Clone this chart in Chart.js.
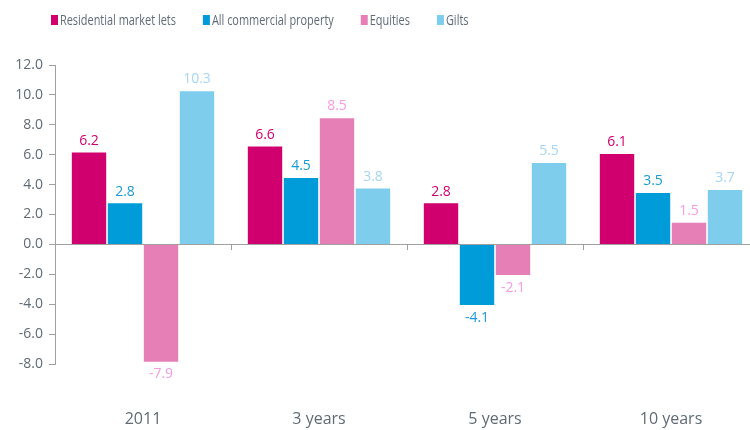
<!DOCTYPE html>
<html>
<head>
<meta charset="utf-8">
<script src="https://cdn.jsdelivr.net/npm/chart.js@4.4.1/dist/chart.umd.min.js"></script>
<style>
  html, body { margin: 0; padding: 0; background: #fff; overflow: hidden; }
  /* the original plot runs slightly past the right edge of the picture */
  #wrap { width: 759px; height: 430px; }
</style>
</head>
<body>
<div id="wrap"><canvas id="chart"></canvas></div>
<script>
// data
const categories = ['2011', '3 years', '5 years', '10 years'];
const seriesNames = ['Residential market lets', 'All commercial property', 'Equities', 'Gilts'];
const residential = [6.2, 6.6, 2.8, 6.1];
const commercial = [2.8, 4.5, -4.1, 3.5];
const equities = [-7.9, 8.5, -2.1, 1.5];
const gilts = [10.3, 3.8, 5.5, 3.7];
const yMin = -8, yMax = 12, yStep = 2;

const barColors = ['#d0006f', '#009bd9', '#e67fb6', '#7fcdec'];
const labelColors = ['#d0006f', '#1a9ad6', '#f59be0', '#a6d6f6'];
const textGrey = '#5f6b76';
const axisGrey = '#a0a0a0';
const mainFont = '"Open Sans", "Noto Sans", sans-serif';

// legend drawn by hand so the narrow text of the original can be imitated
const legendPlugin = {
  id: 'narrowLegend',
  afterDraw(chart) {
    const ctx = chart.ctx;
    const squeeze = 0.78;
    const yMid = 20;
    let cx = chart.chartArea.left - 4;
    ctx.save();
    ctx.font = '14px ' + mainFont;
    ctx.textBaseline = 'middle';
    ctx.textAlign = 'left';
    chart.data.datasets.forEach((ds) => {
      ctx.fillStyle = ds.backgroundColor;
      ctx.fillRect(cx, yMid - 5, 7, 10);
      cx += 9;
      const w = ctx.measureText(ds.label).width * squeeze;
      ctx.save();
      ctx.translate(cx, yMid);
      ctx.scale(squeeze, 1);
      ctx.fillStyle = textGrey;
      ctx.fillText(ds.label, 0, 1);
      ctx.restore();
      cx += w + 27;
    });
    ctx.restore();
  }
};

// zero line, category ticks and value labels
const extrasPlugin = {
  id: 'extras',
  afterDatasetsDraw(chart) {
    const ctx = chart.ctx;
    const x = chart.scales.x, y = chart.scales.y;
    const y0 = Math.round(y.getPixelForValue(0));
    ctx.save();
    ctx.strokeStyle = axisGrey;
    ctx.lineWidth = 1;
    ctx.beginPath();
    ctx.moveTo(chart.chartArea.left, y0 + 0.5);
    ctx.lineTo(chart.chartArea.right, y0 + 0.5);
    for (let i = 0; i < categories.length - 1; i++) {
      const bx = Math.round((x.getPixelForValue(i) + x.getPixelForValue(i + 1)) / 2) + 0.5;
      ctx.moveTo(bx, y0);
      ctx.lineTo(bx, y0 + 6);
    }
    ctx.stroke();

    ctx.font = '14px ' + mainFont;
    ctx.textAlign = 'center';
    chart.data.datasets.forEach((ds, di) => {
      const meta = chart.getDatasetMeta(di);
      meta.data.forEach((bar, i) => {
        const v = ds.data[i];
        ctx.fillStyle = labelColors[di];
        if (v >= 0) {
          ctx.textBaseline = 'bottom';
          ctx.fillText(v.toFixed(1), bar.x, bar.y - 4);
        } else {
          ctx.textBaseline = 'top';
          ctx.fillText(v.toFixed(1), bar.x, bar.y + 5);
        }
      });
    });
    ctx.restore();
  }
};

const allSeries = [residential, commercial, equities, gilts];

new Chart(document.getElementById('chart'), {
  type: 'bar',
  data: {
    labels: categories,
    datasets: allSeries.map((vals, i) => ({
      label: seriesNames[i],
      data: vals,
      backgroundColor: barColors[i],
      borderColor: 'rgba(255,255,255,0.7)',
      borderWidth: 0.8,
      categoryPercentage: 0.818,
      barPercentage: 1
    }))
  },
  options: {
    responsive: true,
    maintainAspectRatio: false,
    animation: false,
    layout: { padding: { left: 0, right: 0, top: 65, bottom: 0 } },
    plugins: {
      legend: { display: false },
      tooltip: { enabled: false }
    },
    scales: {
      x: {
        afterFit(scale) { scale.height = 66; },
        grid: { display: false, drawTicks: false },
        border: { display: false },
        ticks: {
          color: textGrey,
          padding: 46,
          font: { family: mainFont, size: 16 }
        }
      },
      y: {
        min: yMin,
        max: yMax,
        afterFit(scale) { scale.width = 55; },
        grid: { drawOnChartArea: false, drawTicks: true, tickLength: 6, color: axisGrey },
        border: { display: true, color: axisGrey },
        ticks: {
          stepSize: yStep,
          color: textGrey,
          padding: 6,
          font: { family: mainFont, size: 14 },
          callback: v => v.toFixed(1)
        }
      }
    }
  },
  plugins: [extrasPlugin, legendPlugin]
});
</script>
</body>
</html>
